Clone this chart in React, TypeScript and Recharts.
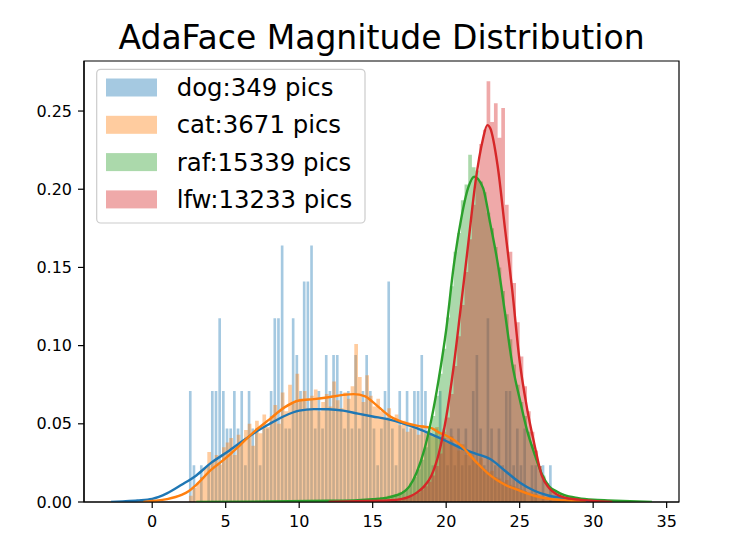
import React from "react";
import { Area, ComposedChart, Line, ReferenceArea, XAxis, YAxis } from "recharts";

// histogram bin width shared by all four series
const BIN = 0.25;

const DOG_START = 2.5;
const dogHist = [
  0.071, 0.0235, 0, 0.0235, 0, 0.0235, 0.071, 0.071, 0.1175, 0.071,
  0.047, 0.047, 0.071, 0.047, 0.071, 0.0235, 0.071, 0.047, 0.047, 0.0235,
  0.047, 0.047, 0.071, 0.1175, 0.1175, 0.164, 0.047, 0.047, 0.1175, 0.094,
  0.071, 0.141, 0.141, 0.164, 0.047, 0.071, 0.047, 0.094, 0.071, 0.094,
  0.094, 0.071, 0.047, 0.071, 0.047, 0.094, 0.047, 0.071, 0.094, 0.071,
  0.047, 0.0235, 0.047, 0.071, 0.141, 0.047, 0.0235, 0.071, 0.047, 0.071,
  0.047, 0.071, 0.071, 0.094, 0.071, 0.047, 0.0235, 0.047, 0.071, 0.047,
  0.0235, 0.047, 0.0235, 0.047, 0.0235, 0.047, 0.0235, 0.071, 0.094, 0.047,
  0.0235, 0.1175, 0.047, 0.0235, 0.047, 0.0235, 0.071, 0.071, 0.0235, 0.047,
  0.0235, 0.047, 0, 0.0235, 0.0235, 0, 0.0235, 0, 0.0235,
];

const CAT_START = 2.5;
const catHist = [
  0.004, 0.009, 0.012, 0.016, 0.022, 0.032, 0.026, 0.03, 0.024, 0.035,
  0.038, 0.041, 0.03, 0.043, 0.039, 0.046, 0.05, 0.036, 0.052, 0.044,
  0.056, 0.048, 0.055, 0.062, 0.05, 0.07, 0.058, 0.075, 0.063, 0.082,
  0.066, 0.071, 0.06, 0.068, 0.072, 0.058, 0.064, 0.069, 0.061, 0.077,
  0.065, 0.06, 0.07, 0.066, 0.074, 0.101, 0.08, 0.064, 0.081, 0.068,
  0.061, 0.066, 0.058, 0.054, 0.06, 0.052, 0.056, 0.049, 0.052, 0.045,
  0.05, 0.047, 0.043, 0.049, 0.044, 0.046, 0.042, 0.048, 0.04, 0.045,
  0.038, 0.042, 0.036, 0.033, 0.037, 0.03, 0.032, 0.027, 0.025, 0.028,
  0.021, 0.019, 0.02, 0.016, 0.015, 0.013, 0.014, 0.011, 0.01, 0.009,
  0.008, 0.007, 0.006, 0.005, 0.005, 0.004, 0.003, 0.003, 0.002, 0.002,
  0.001,
];

const RAF_START = 15;
const rafHist = [
  0.002, 0.002, 0.003, 0.003, 0.004, 0.004, 0.005, 0.006, 0.007, 0.009,
  0.012, 0.016, 0.021, 0.027, 0.035, 0.044, 0.055, 0.068, 0.082, 0.098,
  0.118, 0.138, 0.16, 0.172, 0.193, 0.203, 0.222, 0.214, 0.212, 0.205,
  0.198, 0.185, 0.175, 0.163, 0.15, 0.135, 0.12, 0.104, 0.088, 0.075,
  0.064, 0.055, 0.045, 0.037, 0.029, 0.023, 0.017, 0.012, 0.009, 0.007,
  0.006, 0.005, 0.004, 0.003, 0.002, 0.002,
];

const LFW_START = 16;
const lfwHist = [
  0.001, 0.001, 0.0015, 0.002, 0.002, 0.003, 0.004, 0.005, 0.006, 0.008,
  0.01, 0.013, 0.017, 0.023, 0.031, 0.041, 0.054, 0.069, 0.087, 0.106,
  0.126, 0.147, 0.168, 0.19, 0.207, 0.229, 0.238, 0.269, 0.243, 0.255,
  0.233, 0.252, 0.19, 0.16, 0.14, 0.115, 0.093, 0.074, 0.058, 0.045,
  0.033, 0.023, 0.016, 0.011, 0.008, 0.006, 0.004, 0.003, 0.002, 0.0015,
  0.001,
];

// kde curves
const dogKdeX = [-2.8, -2, -1, 0, 1, 2, 3, 4, 5, 6, 7, 8, 9, 10, 11, 12, 13, 14, 15, 16, 17, 18, 19, 20, 21, 22, 23, 24, 25, 26, 27, 28, 29, 30, 31, 32];
const dogKdeY = [0, 0.0004, 0.001, 0.002, 0.0055, 0.011, 0.017, 0.025, 0.0313, 0.038, 0.0445, 0.05, 0.055, 0.0584, 0.0594, 0.0593, 0.0584, 0.0565, 0.0547, 0.053, 0.0505, 0.0472, 0.0432, 0.039, 0.0345, 0.031, 0.0275, 0.02, 0.0125, 0.0072, 0.004, 0.0024, 0.0013, 0.0007, 0.0003, 0];

const catKdeX = [-0.6, 0, 1, 2, 2.5, 3, 4, 5, 6, 7, 8, 9, 10, 11, 12, 13, 13.7, 14.5, 15, 15.5, 16, 17, 18, 19, 19.6, 20, 21, 22, 23, 24, 25, 26, 27, 28, 29, 29.5];
const catKdeY = [0, 0.0006, 0.0018, 0.0045, 0.007, 0.011, 0.0205, 0.028, 0.0366, 0.0455, 0.053, 0.0605, 0.0649, 0.0658, 0.067, 0.0685, 0.069, 0.0675, 0.064, 0.06, 0.056, 0.0512, 0.0488, 0.0472, 0.044, 0.0425, 0.0362, 0.026, 0.017, 0.011, 0.0073, 0.004, 0.002, 0.0012, 0.0005, 0];

const rafKdeX = [3, 8, 12, 14, 15, 16, 16.5, 17, 17.5, 18, 18.5, 19, 19.5, 20, 20.5, 21, 21.5, 21.9, 22.5, 23, 23.5, 24, 24.5, 25, 25.5, 26, 26.5, 27, 27.5, 28, 29, 30, 31, 32, 34];
const rafKdeY = [0, 0.0003, 0.0008, 0.0012, 0.0018, 0.0028, 0.004, 0.0057, 0.01, 0.019, 0.033, 0.053, 0.079, 0.11, 0.15, 0.18, 0.201, 0.208, 0.201, 0.178, 0.153, 0.121, 0.088, 0.066, 0.046, 0.031, 0.018, 0.01, 0.0068, 0.0045, 0.0025, 0.0015, 0.001, 0.0006, 0];

const lfwKdeX = [12, 14, 16, 17, 17.5, 18, 18.5, 19, 19.5, 20, 20.5, 21, 21.5, 22, 22.5, 22.8, 23, 23.5, 24, 24.5, 25, 25.5, 26, 26.5, 27, 27.5, 28, 29, 30, 31.3];
const lfwKdeY = [0, 0.0005, 0.001, 0.002, 0.0035, 0.006, 0.01, 0.017, 0.031, 0.054, 0.086, 0.125, 0.165, 0.205, 0.232, 0.241, 0.239, 0.215, 0.175, 0.135, 0.09, 0.06, 0.037, 0.017, 0.009, 0.005, 0.003, 0.0015, 0.0007, 0];

const names = ["dog:349 pics", "cat:3671 pics", "raf:15339 pics", "lfw:13233 pics"];
const colors = ["#1f77b4", "#ff7f0e", "#2ca02c", "#d62728"];

const xTicks = [0, 5, 10, 15, 20, 25, 30, 35];
const yTicks = [0, 0.05, 0.1, 0.15, 0.2, 0.25];
const X_MIN = -4.64;
const X_MAX = 35.84;
const Y_MAX = 0.282;

const FONT = "DejaVu Sans";

// step outline of a histogram; barWidth < BIN leaves a gap after each bar
function histPoints(start: number, values: number[], barWidth = BIN) {
  const pts: { x: number; y: number }[] = [];
  values.forEach((v, i) => {
    const left = start + i * BIN;
    pts.push({ x: left, y: v });
    if (barWidth < BIN) pts.push({ x: left + barWidth, y: 0 });
  });
  pts.push({ x: start + values.length * BIN, y: 0 });
  return pts;
}

function kdePoints(xs: number[], ys: number[]) {
  return xs.map((x, i) => ({ x, y: ys[i] }));
}

const series = [
  { hist: histPoints(DOG_START, dogHist, 0.18), kde: kdePoints(dogKdeX, dogKdeY) },
  { hist: histPoints(CAT_START, catHist), kde: kdePoints(catKdeX, catKdeY) },
  { hist: histPoints(RAF_START, rafHist), kde: kdePoints(rafKdeX, rafKdeY) },
  { hist: histPoints(LFW_START, lfwHist), kde: kdePoints(lfwKdeX, lfwKdeY) },
];

const tickStyle = { fontSize: 16, fill: "#000", fontFamily: FONT };

export default function App() {
  return (
    <div style={{ position: "absolute", left: 0, top: 0, width: 744, height: 555, background: "#fff" }}>
      <ComposedChart width={744} height={555} margin={{ top: 61, right: 65, bottom: 23, left: 0 }}>
        <XAxis
          type="number"
          dataKey="x"
          domain={[X_MIN, X_MAX]}
          allowDataOverflow
          ticks={xTicks}
          height={30}
          tick={tickStyle}
          tickSize={6}
          tickMargin={8}
          stroke="#000"
          axisLine={{ stroke: "#000", strokeWidth: 1.2 }}
          tickLine={{ stroke: "#000", strokeWidth: 1.2 }}
        />
        <YAxis
          type="number"
          dataKey="y"
          domain={[0, Y_MAX]}
          allowDataOverflow
          ticks={yTicks}
          width={84}
          tick={tickStyle}
          tickFormatter={(v) => Number(v).toFixed(2)}
          tickSize={6}
          tickMargin={6}
          axisLine={{ stroke: "#000", strokeWidth: 1.2 }}
          tickLine={{ stroke: "#000", strokeWidth: 1.2 }}
        />
        {series.map((s, i) => (
          <Area
            key={`h${i}`}
            data={s.hist}
            dataKey="y"
            type="stepAfter"
            fill={colors[i]}
            fillOpacity={0.4}
            stroke="none"
            dot={false}
            activeDot={false}
            isAnimationActive={false}
          />
        ))}
        {series.map((s, i) => (
          <Line
            key={`k${i}`}
            data={s.kde}
            dataKey="y"
            type="monotone"
            stroke={colors[i]}
            strokeWidth={2.4}
            dot={false}
            activeDot={false}
            isAnimationActive={false}
          />
        ))}
        <ReferenceArea x1={X_MIN} x2={X_MAX} y1={0} y2={Y_MAX} fill="none" stroke="#000" strokeWidth={1.2} />
      </ComposedChart>
      <svg width={744} height={555} style={{ position: "absolute", left: 0, top: 0, pointerEvents: "none" }}>
        <text x={381.5} y={48.5} textAnchor="middle" fontFamily={FONT} fontSize={33} fill="#000">
          AdaFace Magnitude Distribution
        </text>
        <rect x={96.7} y={69.3} width={268.3} height={153.7} rx={4} fill="#fff" fillOpacity={0.8} stroke="#cccccc" strokeWidth={1.2} />
        {names.map((n, i) => (
          <g key={n}>
            <rect x={106} y={78.5 + i * 37.3} width={51} height={18} fill={colors[i]} fillOpacity={0.4} />
            <text x={176.7} y={96 + i * 37.3} fontFamily={FONT} fontSize={24.4} fill="#000">
              {n}
            </text>
          </g>
        ))}
      </svg>
    </div>
  );
}
